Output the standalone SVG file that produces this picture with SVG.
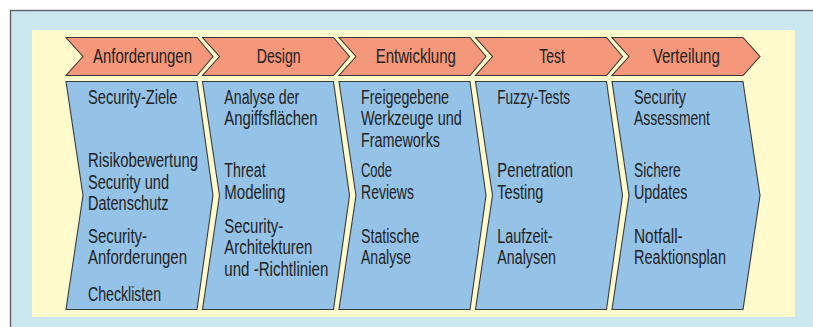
<svg xmlns="http://www.w3.org/2000/svg" width="813" height="327" viewBox="0 0 813 327">
<style>
.frame{fill:#cbe8f1;stroke:#5a5a5a;stroke-width:1.3}
.panel{fill:#fffbcd}
.hdr{fill:#f5977a;stroke:#3a3a3a;stroke-width:1.1;stroke-linejoin:miter}
.body{fill:#95c2e7;stroke:#3a3a3a;stroke-width:1.1;stroke-linejoin:miter}
.t{font-family:"Liberation Sans Narrow","Liberation Sans",Arial,sans-serif;font-size:19.5px;fill:#222}
.h{text-anchor:middle}
</style>
<rect class="frame" x="10.5" y="10.5" width="830" height="340"/>
<rect class="panel" x="32" y="30" width="763" height="287"/>
<g id="connectors"/>
<g id="phase-anforderungen">
<polygon class="hdr" points="66,37.5 197,37.5 213,56.5 197,75.5 66,75.5 83,56.5"/>
<text class="t h" x="142.5" y="63.3" textLength="99" lengthAdjust="spacingAndGlyphs">Anforderungen</text>
<polygon class="body" points="66,81.5 197,81.5 213,195.5 197,309.5 66,309.5 83,195.5"/>
<text class="t" x="88" y="104" textLength="89.5" lengthAdjust="spacingAndGlyphs">Security-Ziele</text>
<text class="t" x="88" y="167.3" textLength="110" lengthAdjust="spacingAndGlyphs">Risikobewertung</text>
<text class="t" x="88" y="188.7" textLength="81" lengthAdjust="spacingAndGlyphs">Security und</text>
<text class="t" x="88" y="210" textLength="80.5" lengthAdjust="spacingAndGlyphs">Datenschutz</text>
<text class="t" x="88" y="243.3" textLength="59" lengthAdjust="spacingAndGlyphs">Security-</text>
<text class="t" x="88" y="264.3" textLength="99" lengthAdjust="spacingAndGlyphs">Anforderungen</text>
<text class="t" x="88" y="301" textLength="73" lengthAdjust="spacingAndGlyphs">Checklisten</text>
</g>
<g id="phase-design">
<polygon class="hdr" points="202.5,37.5 333.5,37.5 349.5,56.5 333.5,75.5 202.5,75.5 219.5,56.5"/>
<text class="t h" x="278.7" y="63.3" textLength="44" lengthAdjust="spacingAndGlyphs">Design</text>
<polygon class="body" points="202.5,81.5 333.5,81.5 349.5,195.5 333.5,309.5 202.5,309.5 219.5,195.5"/>
<text class="t" x="224.3" y="104" textLength="75" lengthAdjust="spacingAndGlyphs">Analyse der</text>
<text class="t" x="224.3" y="125" textLength="93.3" lengthAdjust="spacingAndGlyphs">Angiffsflächen</text>
<text class="t" x="224.3" y="177.3" textLength="41.3" lengthAdjust="spacingAndGlyphs">Threat</text>
<text class="t" x="224.3" y="199" textLength="61" lengthAdjust="spacingAndGlyphs">Modeling</text>
<text class="t" x="224.3" y="232.7" textLength="59" lengthAdjust="spacingAndGlyphs">Security-</text>
<text class="t" x="224.3" y="254" textLength="88" lengthAdjust="spacingAndGlyphs">Architekturen</text>
<text class="t" x="224.3" y="275.7" textLength="104" lengthAdjust="spacingAndGlyphs">und -Richtlinien</text>
</g>
<g id="phase-entwicklung">
<polygon class="hdr" points="339,37.5 470,37.5 486,56.5 470,75.5 339,75.5 356,56.5"/>
<text class="t h" x="415.8" y="63.3" textLength="80.3" lengthAdjust="spacingAndGlyphs">Entwicklung</text>
<polygon class="body" points="339,81.5 470,81.5 486,195.5 470,309.5 339,309.5 356,195.5"/>
<text class="t" x="361" y="104" textLength="88" lengthAdjust="spacingAndGlyphs">Freigegebene</text>
<text class="t" x="361" y="125" textLength="100.7" lengthAdjust="spacingAndGlyphs">Werkzeuge und</text>
<text class="t" x="361" y="146.7" textLength="79" lengthAdjust="spacingAndGlyphs">Frameworks</text>
<text class="t" x="361" y="177.3" textLength="31" lengthAdjust="spacingAndGlyphs">Code</text>
<text class="t" x="361" y="199" textLength="53" lengthAdjust="spacingAndGlyphs">Reviews</text>
<text class="t" x="361" y="242.7" textLength="58.3" lengthAdjust="spacingAndGlyphs">Statische</text>
<text class="t" x="361" y="264.3" textLength="50" lengthAdjust="spacingAndGlyphs">Analyse</text>
</g>
<g id="phase-test">
<polygon class="hdr" points="475.5,37.5 606.5,37.5 622.5,56.5 606.5,75.5 475.5,75.5 492.5,56.5"/>
<text class="t h" x="552" y="63.3" textLength="25.7" lengthAdjust="spacingAndGlyphs">Test</text>
<polygon class="body" points="475.5,81.5 606.5,81.5 622.5,195.5 606.5,309.5 475.5,309.5 492.5,195.5"/>
<text class="t" x="497.3" y="104" textLength="72.7" lengthAdjust="spacingAndGlyphs">Fuzzy-Tests</text>
<text class="t" x="497.3" y="177.3" textLength="75.7" lengthAdjust="spacingAndGlyphs">Penetration</text>
<text class="t" x="497.3" y="199" textLength="46" lengthAdjust="spacingAndGlyphs">Testing</text>
<text class="t" x="497.3" y="242.7" textLength="55.3" lengthAdjust="spacingAndGlyphs">Laufzeit-</text>
<text class="t" x="497.3" y="264.3" textLength="58.7" lengthAdjust="spacingAndGlyphs">Analysen</text>
</g>
<g id="phase-verteilung">
<polygon class="hdr" points="612,37.5 743,37.5 760,56.5 743,75.5 612,75.5 629,56.5"/>
<text class="t h" x="686.3" y="63.3" textLength="67.3" lengthAdjust="spacingAndGlyphs">Verteilung</text>
<polygon class="body" points="612,81.5 743,81.5 760,195.5 743,309.5 612,309.5 629,195.5"/>
<text class="t" x="634" y="104" textLength="52" lengthAdjust="spacingAndGlyphs">Security</text>
<text class="t" x="634" y="125" textLength="76" lengthAdjust="spacingAndGlyphs">Assessment</text>
<text class="t" x="634" y="177.3" textLength="46.7" lengthAdjust="spacingAndGlyphs">Sichere</text>
<text class="t" x="634" y="199" textLength="53.3" lengthAdjust="spacingAndGlyphs">Updates</text>
<text class="t" x="634" y="242.7" textLength="48.7" lengthAdjust="spacingAndGlyphs">Notfall-</text>
<text class="t" x="634" y="264.3" textLength="92" lengthAdjust="spacingAndGlyphs">Reaktionsplan</text>
</g>
</svg>
